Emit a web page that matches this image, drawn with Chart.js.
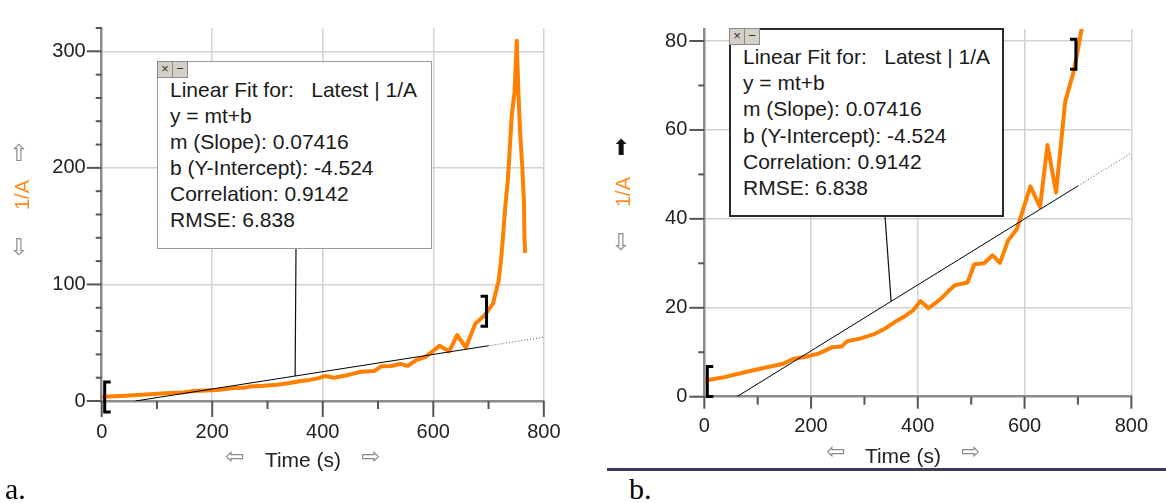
<!DOCTYPE html>
<html>
<head>
<meta charset="utf-8">
<title>1/A vs Time</title>
<script src="https://cdn.jsdelivr.net/npm/chart.js@4.4.1/dist/chart.umd.min.js"></script>
<style>
  body { margin: 0; width: 1166px; height: 503px; position: relative; overflow: hidden; background: #fff;
         font-family: "Liberation Sans", Arial, sans-serif; color: #1a1a1a; }
  canvas { position: absolute; top: 0; }
  .lbl { position: absolute; transform: translate(-50%, -50%); white-space: pre; line-height: 1; }
  .arrow { font-family: "DejaVu Sans", sans-serif; font-size: 23px; color: #8a8a8a; }
  .fit { position: absolute; background: #fff; box-sizing: border-box; }
  .fittxt { position: absolute; font-size: 21px; line-height: 26px; white-space: pre; color: #1a1a1a; }
  .btns { position: absolute; height: 16px; display: flex; }
  .btns span { width: 14px; height: 15px; background: #d4d0c8; border: 1px solid #8a8a8a; margin-right: -1px;
               font-size: 13px; line-height: 14px; text-align: center; color: #333; }
  .ylab { position: absolute; transform: translate(-50%, -50%) rotate(-90deg); font-size: 20px; color: #ff8a1c; line-height: 1; }
  .xlab { font-size: 21px; color: #222; }
  .cap { position: absolute; font-family: "Liberation Serif", "Times New Roman", serif; font-size: 30px; color: #000; }
</style>
</head>
<body>

<canvas id="chartA" width="580" height="450" style="left:0px"></canvas>
<canvas id="chartB" width="566" height="450" style="left:600px"></canvas>

<!-- panel a -->
<div class="lbl arrow" style="left:19px; top:153px">⇧</div>
<div class="ylab" style="left:22px; top:195px">1/A</div>
<div class="lbl arrow" style="left:19px; top:247px">⇩</div>
<div class="lbl arrow" style="left:235px; top:456px">⇦</div>
<div class="lbl xlab" style="left:303px; top:459px">Time (s)</div>
<div class="lbl arrow" style="left:371px; top:456px">⇨</div>

<div class="fit" style="left:157px; top:61px; width:275px; height:188px; border:1.5px solid #9a9a9a"></div>
<div class="btns" style="left:157px; top:61px"><span>×</span><span>−</span></div>
<div class="fittxt" style="left:170px; top:77px">Linear Fit for:   Latest | 1/A
y = mt+b
m (Slope): 0.07416
b (Y-Intercept): -4.524
Correlation: 0.9142
RMSE: 6.838</div>

<div class="cap" style="left:5px; top:472px">a.</div>

<!-- panel b -->
<div class="lbl" style="left:621px; top:148px; font-family:'DejaVu Sans'; font-size:22px; color:#111">⬆</div>
<div class="ylab" style="left:623px; top:192px">1/A</div>
<div class="lbl arrow" style="left:621px; top:242px">⇩</div>
<div class="lbl arrow" style="left:836px; top:451px">⇦</div>
<div class="lbl xlab" style="left:903px; top:455px">Time (s)</div>
<div class="lbl arrow" style="left:971px; top:451px">⇨</div>

<div class="fit" style="left:729px; top:28px; width:275px; height:189px; border:2px solid #2a2a2a"></div>
<div class="btns" style="left:729px; top:28px"><span>×</span><span>−</span></div>
<div class="fittxt" style="left:743px; top:44px; line-height:26.2px">Linear Fit for:   Latest | 1/A
y = mt+b
m (Slope): 0.07416
b (Y-Intercept): -4.524
Correlation: 0.9142
RMSE: 6.838</div>

<div style="position:absolute; left:607px; top:468px; width:559px; height:3px; background:#3c3c58"></div>
<div class="cap" style="left:629px; top:472px">b.</div>

<script>
// values
const times = [0, 34, 58, 94, 124, 148, 166, 190, 214, 239, 257, 268, 293, 317, 340, 358, 376, 391, 405, 420,
               442, 457, 470, 493, 506, 524, 540, 554, 569, 585, 593, 611, 629, 643, 659, 671, 676, 692, 700, 708,
               718, 722, 726, 730, 735, 742, 747, 751, 754, 757, 761, 764, 765, 766];
const invA = [3.6, 4.3, 5.0, 6.0, 6.8, 7.4, 8.5, 9.0, 9.7, 11.1, 11.3, 12.5, 13.1, 14.0, 15.4, 16.9, 18.1, 19.4, 21.5, 19.9,
              21.9, 23.7, 25.1, 25.7, 29.8, 30.0, 31.8, 30.1, 35.1, 37.6, 40.5, 47.3, 42.7, 56.6, 45.9, 60.2, 66.3, 73.1, 78.1, 83.5,
              102.5, 118, 140, 165, 190, 245, 265, 309, 265, 232, 201, 171, 141, 127];

// linear fit line (solid over the fitted range, dotted beyond)
const fitTimes = [61, 700];
const fitValues = [0, 47.4];
const extTimes = [700, 800];
const extValues = [47.4, 54.8];
const fitStart = 0, fitEnd = 700;
const bracketValues = [3.4, 77];
const leaderTime = 350;

const xLabels = [0, 200, 400, 600, 800];
const yLabelsA = [0, 100, 200, 300];
const yLabelsB = [0, 20, 40, 60, 80];

const pts = (xs, ys) => xs.map((x, i) => ({ x: x, y: ys[i] }));

function extras(cfg) {
  return {
    id: 'extras',
    afterDraw(chart) {
      const ctx = chart.ctx, xs = chart.scales.x, ys = chart.scales.y, a = chart.chartArea;
      const line = (x1, y1, x2, y2) => { ctx.beginPath(); ctx.moveTo(x1, y1); ctx.lineTo(x2, y2); ctx.stroke(); };
      ctx.save();
      // tick marks
      ctx.strokeStyle = '#555';
      ctx.lineWidth = 2;
      xs.ticks.forEach(t => {
        const px = xs.getPixelForValue(t.value);
        line(px, a.bottom, px, a.bottom + (xLabels.includes(t.value) ? cfg.xMajor : 8));
      });
      ys.ticks.forEach(t => {
        const py = ys.getPixelForValue(t.value);
        line(a.left - (cfg.yLabels.includes(t.value) ? 15 : 6), py, a.left, py);
      });
      // fit range brackets
      ctx.strokeStyle = '#000';
      ctx.lineWidth = 3;
      let bx = xs.getPixelForValue(fitStart) + 3, by = ys.getPixelForValue(bracketValues[0]);
      ctx.beginPath(); ctx.moveTo(bx + 6, by - 15); ctx.lineTo(bx, by - 15); ctx.lineTo(bx, by + 15); ctx.lineTo(bx + 6, by + 15); ctx.stroke();
      bx = xs.getPixelForValue(fitEnd) - 2; by = ys.getPixelForValue(bracketValues[1]);
      ctx.beginPath(); ctx.moveTo(bx - 6, by - 15); ctx.lineTo(bx, by - 15); ctx.lineTo(bx, by + 15); ctx.lineTo(bx - 6, by + 15); ctx.stroke();
      // leader from the fit box to the fit line
      const lv = fitValues[0] + (fitValues[1] - fitValues[0]) * (leaderTime - fitTimes[0]) / (fitTimes[1] - fitTimes[0]);
      ctx.lineWidth = 1.2;
      ctx.strokeStyle = '#111';
      line(cfg.leader[0], cfg.leader[1], xs.getPixelForValue(leaderTime), ys.getPixelForValue(lv));
      ctx.restore();
    }
  };
}

function makePanel(id, cfg) {
  const tickFont = { family: 'Liberation Sans', size: 20 };
  return new Chart(document.getElementById(id), {
    type: 'line',
    data: {
      datasets: [
        { data: pts(fitTimes, fitValues), borderColor: '#000', borderWidth: 1, pointRadius: 0 },
        { data: pts(extTimes, extValues), borderColor: '#555', borderWidth: 1, borderDash: [1, 2], pointRadius: 0 },
        { data: pts(times, invA), borderColor: '#ff8000', borderWidth: 4, pointRadius: 0, borderJoinStyle: 'round' }
      ]
    },
    options: {
      responsive: false,
      animation: false,
      events: [],
      layout: { padding: cfg.pad },
      plugins: { legend: { display: false }, tooltip: { enabled: false } },
      scales: {
        x: {
          type: 'linear', min: 0, max: 800,
          afterFit: s => { s.height = cfg.xH; },
          grid: {
            drawTicks: false, lineWidth: 1.5,
            color: c => (c.tick && c.tick.value > 0 && xLabels.includes(c.tick.value)) ? '#d2d2d2' : 'rgba(0,0,0,0)'
          },
          border: { color: '#8c8c8c', width: 2.5 },
          ticks: {
            stepSize: 100, autoSkip: false, maxRotation: 0, padding: cfg.xPad, color: '#222', font: tickFont,
            callback: v => xLabels.includes(v) ? v : ''
          }
        },
        y: {
          min: 0, max: cfg.yMax,
          afterFit: s => { s.width = cfg.yW; },
          grid: {
            drawTicks: false, lineWidth: 1.5,
            color: c => (c.tick && c.tick.value > 0 && cfg.yLabels.includes(c.tick.value)) ? '#d2d2d2' : 'rgba(0,0,0,0)'
          },
          border: { color: '#8c8c8c', width: 2.5 },
          ticks: {
            stepSize: cfg.yStep, includeBounds: false, autoSkip: false, padding: cfg.yPad, color: '#222', font: tickFont,
            callback: v => cfg.yLabels.includes(v) ? v : ''
          }
        }
      }
    },
    plugins: [extras(cfg)]
  });
}

makePanel('chartA', {
  pad: { top: 12, right: 31, left: 0, bottom: 0 },
  xH: 49, yW: 101.7, yMax: 320, yStep: 20, yLabels: yLabelsA,
  xPad: 19.5, yPad: 16, xMajor: 16, leader: [296, 248]
});

makePanel('chartB', {
  pad: { top: 9.3, right: 18.3, left: 0, bottom: 0 },
  xH: 53.3, yW: 104.3, yMax: 82.7, yStep: 10, yLabels: yLabelsB,
  xPad: 18, yPad: 17, xMajor: 12, leader: [285, 216]
});
</script>
</body>
</html>
